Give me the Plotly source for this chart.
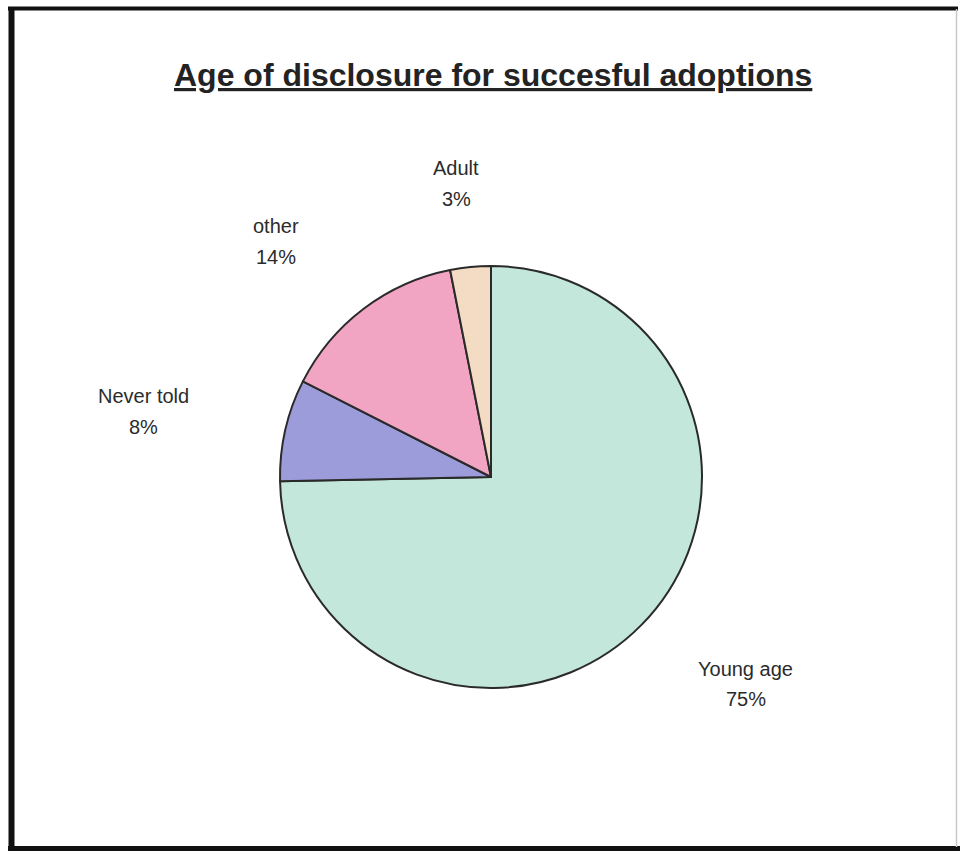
import math
import plotly.graph_objects as go

# ---- data ----
labels = ["Young age", "Never told", "other", "Adult"]
values = [74.6, 7.8, 14.4, 3.1]
colors = ["#c3e7da", "#9d9cda", "#f1a5c3", "#f3dcc3"]
title_text = "Age of disclosure for succesful adoptions"

W, H = 963, 854
cx, cy, r = 491, 477, 211  # pie centre / radius in pixels

fig = go.Figure()
fig.add_trace(go.Pie(
    labels=labels, values=values, sort=False, direction="clockwise", rotation=0,
    marker=dict(colors=colors, line=dict(color="#2a2a2a", width=2)),
    textinfo="none", hoverinfo="label+percent", showlegend=False,
    domain=dict(x=[(cx - r) / W, (cx + r) / W], y=[1 - (cy + r) / H, 1 - (cy - r) / H]),
))

# ---- data labels placed outside, derived from slice angles ----
total = sum(values)
fs = 20
annotations = []
cum = 0.0
Rx, Ry = 1.69 * r, 1.40 * r
for lab, v in zip(labels, values):
    mid = (cum + v / 2) / total * 2 * math.pi
    cum += v
    dx, dy = math.sin(mid), -math.cos(mid)
    bx = cx + dx * Rx
    by = cy + dy * Ry
    pct = f"{round(v / total * 100)}%"
    for txt, oy in ((lab, -15), (pct, 15.5)):
        annotations.append(dict(
            x=bx / W, y=1 - (by + oy) / H, xref="paper", yref="paper",
            text=txt, showarrow=False, xanchor="center", yanchor="middle",
            font=dict(family="Liberation Sans, Arial, sans-serif", size=fs, color="#2b2b2b"),
        ))

annotations.append(dict(
    x=493 / W, y=1 - 75 / H, xref="paper", yref="paper", text=f"<b>{title_text}</b>",
    showarrow=False, xanchor="center", yanchor="middle",
    font=dict(family="Liberation Sans, Arial, sans-serif", size=32, color="#232323",
              lineposition="under"),
))

def px_line(x0, y0, x1, y1, color, width):
    return dict(type="line", xref="paper", yref="paper",
                x0=x0 / W, y0=1 - y0 / H, x1=x1 / W, y1=1 - y1 / H,
                line=dict(color=color, width=width))

shapes = [
    px_line(8, 8.5, 958, 8.5, "#111", 4),
    px_line(11.5, 7, 11.5, 851, "#111", 6),
    px_line(8, 848.5, 960, 848.5, "#111", 5),
    px_line(956.5, 9, 956.5, 847, "#c8c8c8", 1.5),
]

fig.update_layout(
    width=W, height=H, margin=dict(l=0, r=0, t=0, b=0),
    paper_bgcolor="white", plot_bgcolor="white",
    annotations=annotations, shapes=shapes,
)

fig.write_html("out.html")
